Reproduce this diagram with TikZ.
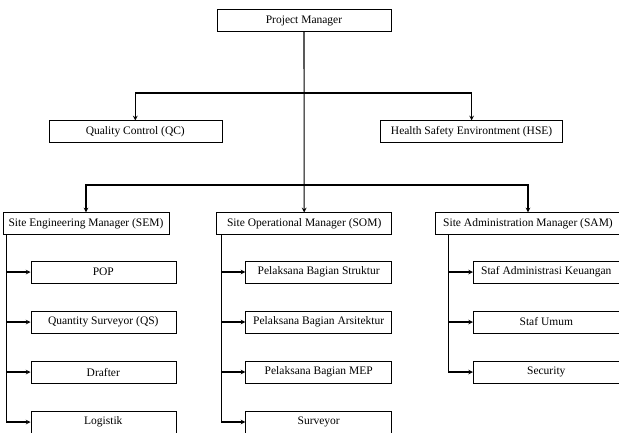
\documentclass[tikz,border=0pt]{standalone}
\usepackage{fontspec}
\setmainfont{Liberation Serif}
\usepackage{tikz}
\usetikzlibrary{calc,positioning,arrows}
\tikzstyle{element} = [rectangle, minimum height=22pt, inner sep=0pt, text centered, draw=black, line width=0.6pt, font=\fontsize{11.5}{13}\selectfont]
\tikzstyle{arrow} = [line width=1.1pt,->,>=stealth]
\tikzstyle{bar} = [line width=2pt]

\begin{document}
\begin{tikzpicture}
		[x=1pt, y=-1pt, node distance=50pt]
		\useasboundingbox (0,0) rectangle (619,432);
		\node[element, minimum width=174pt] (pm) at (304,20.7) {Project Manager};
		\node[element, minimum width=173pt] (qc) at (135.3,131.7) {Quality Control (QC)};
		\node[element, minimum width=182pt] (hse) at (471.6,131.7) {Health Safety Environtment (HSE)};
		
		\node[element, minimum width=166pt] (sem) at (86,223.7) {Site Engineering Manager (SEM)};
		\node[element, minimum width=175pt] (som) at (304.2,223.7) {Site Operational Manager (SOM)};
		\node[element, minimum width=186pt] (sam) at (528,223.7) {Site Administration Manager (SAM)};
		
		% SEM
		\node[element, minimum width=145pt] (pop) at (103.3,272) {POP};
		\node[element, minimum width=145pt, below of=pop] (qs) {Quantity Surveyor (QS)};
		\node[element, minimum width=145pt, below of=qs] (drafter) {Drafter};
		\node[element, minimum width=145pt, below of=drafter] (logistik) {Logistik};
		
		% SOM
		\node[element, minimum width=146pt] (struktur) at (318.7,272) {Pelaksana Bagian Struktur};
		\node[element, minimum width=146pt, below of=struktur] (arsitektur) {Pelaksana Bagian Arsitektur};
		\node[element, minimum width=146pt, below of=arsitektur] (mep) {Pelaksana Bagian MEP};
		\node[element, minimum width=146pt, below of=mep] (surveyor) {Surveyor};
		
		% SAM
		\node[element, minimum width=146pt] (keuangan) at (546.3,272) {Staf Administrasi Keuangan};
		\node[element, minimum width=146pt, below of=keuangan] (umum) {Staf Umum};
		\node[element, minimum width=146pt, below of=umum] (security) {Security};
		
		\coordinate (top) at (304,92.7);
		\coordinate (mid) at (304,185);
		\draw[bar] (qc.north |- top) -- (hse.north |- top);
		\draw[arrow] (top) -| (qc);
		\draw[arrow] (top) -| (hse);
		\draw[line width=0.8pt] (sem.north |- mid) -- (sam.north |- mid);
		\draw[arrow] (mid) -| (sem);
		\draw[arrow] (mid) -| (sam);
		\draw[arrow] (pm) -- (som);
		
		\coordinate (semline) at ([xshift=3.4pt]sem.south west);
		\coordinate (somline) at ([xshift=5pt]som.south west);
		\coordinate (samline) at ([xshift=14pt]sam.south west);
		\foreach \c in {pop,qs,drafter,logistik}
		\draw[arrow] (semline) |- (\c);
		\foreach \c in {struktur,arsitektur,mep,surveyor}
		\draw[arrow] (somline) |- (\c);
		\foreach \c in {keuangan,umum,security}
		\draw[arrow] (samline) |- (\c);
		\end{tikzpicture}
\end{document}
